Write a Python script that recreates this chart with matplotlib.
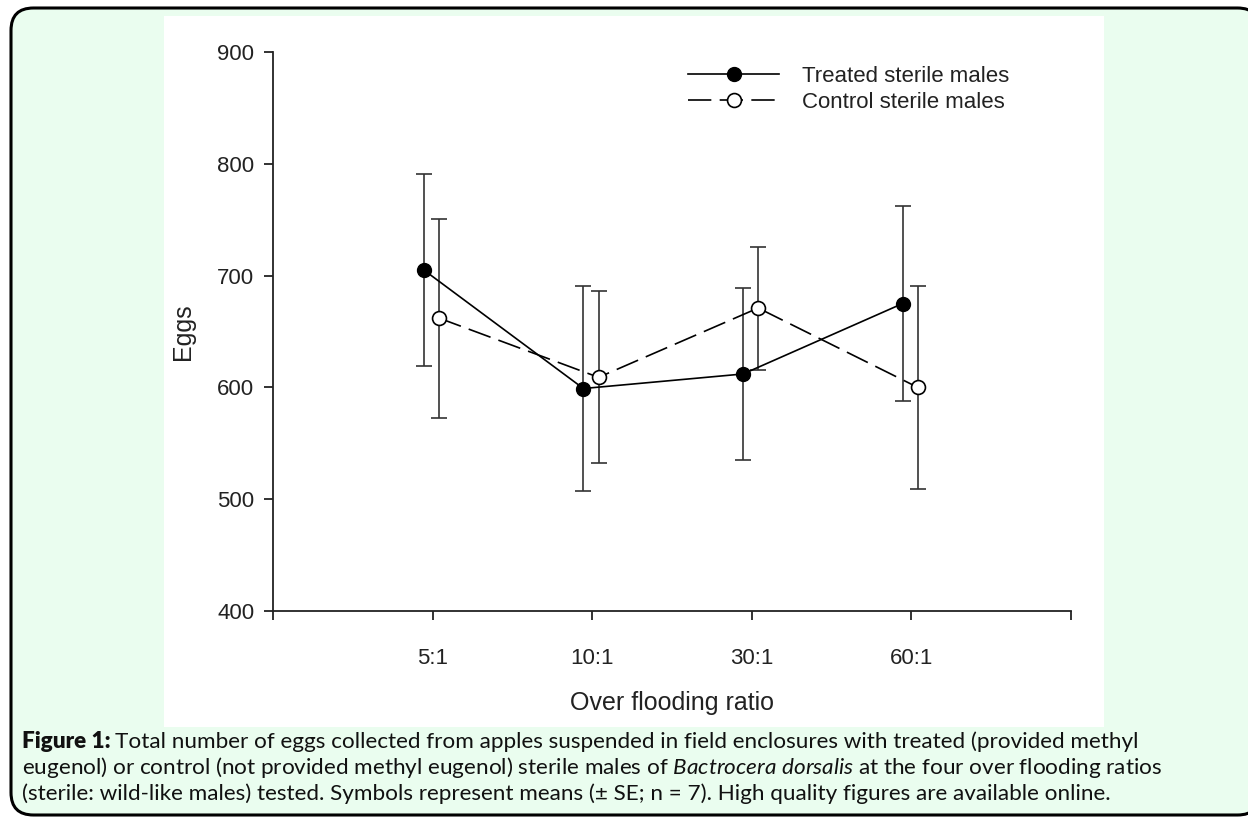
import matplotlib
matplotlib.use("Agg")
import matplotlib.pyplot as plt
from matplotlib.patches import FancyBboxPatch, Rectangle
import numpy as np

categories = ["5:1", "10:1", "30:1", "60:1"]
treated_mean = [705, 599, 612, 675]
treated_se = [86, 92, 77, 87]
control_mean = [662, 609, 671, 600]
control_se = [89, 77, 55, 91]
yticks = [400, 500, 600, 700, 800, 900]

plt.rcParams["mathtext.fontset"] = "custom"
plt.rcParams["mathtext.it"] = "Lato:italic"
plt.rcParams["mathtext.rm"] = "Lato"

W, H = 1248, 819
fig = plt.figure(figsize=(W / 100, H / 100), dpi=100)
fig.patch.set_facecolor("white")

# outer rounded green box
box = FancyBboxPatch((11 / W, 1 - 815 / H), (1260 - 11) / W, (815 - 8) / H,
                     boxstyle="round,pad=0,rounding_size=0.018",
                     transform=fig.transFigure, facecolor="#eafdef",
                     edgecolor="black", linewidth=2.2, zorder=-2,
                     mutation_aspect=W / H)
fig.patches.append(box)
# white chart panel
panel = Rectangle((164 / W, 1 - 727 / H), (1104 - 164) / W, (727 - 16) / H,
                  transform=fig.transFigure, facecolor="white",
                  edgecolor="none", zorder=-1)
fig.patches.append(panel)

ax = fig.add_axes([273 / W, 1 - 611 / H, (1071 - 273) / W, (611 - 52) / H])
ax.set_facecolor("none")
x = np.arange(1, len(categories) + 1)
ax.set_xlim(0, len(categories) + 1)
ax.set_ylim(400, 900)

font = ["Liberation Sans", "DejaVu Sans"]
ax.errorbar(x - 0.055, treated_mean, yerr=treated_se, fmt="none",
            ecolor="#333333", elinewidth=1.2, capsize=6, capthick=1.2, zorder=2)
ax.errorbar(x + 0.04, control_mean, yerr=control_se, fmt="none",
            ecolor="#333333", elinewidth=1.2, capsize=6, capthick=1.2, zorder=2)
ax.plot(x - 0.055, treated_mean, "-", color="black", linewidth=1.2,
        marker="o", markersize=10, markerfacecolor="black",
        markeredgecolor="black", zorder=3, label="Treated sterile males")
ax.plot(x + 0.04, control_mean, color="black", linewidth=1.2,
        dashes=(14, 5), marker="o", markersize=10, markerfacecolor="white",
        markeredgecolor="black", markeredgewidth=1.2, zorder=3,
        label="Control sterile males")

for s in ["top", "right"]:
    ax.spines[s].set_visible(False)
for s in ["left", "bottom"]:
    ax.spines[s].set_linewidth(1.3)
    ax.spines[s].set_color("#222222")

ax.set_xticks(np.arange(0, len(categories) + 2))
ax.set_xticklabels([""] + categories + [""], fontsize=16, family=font)
ax.set_yticks(yticks)
ax.set_yticklabels([str(v) for v in yticks], fontsize=16, family=font)
ax.tick_params(axis="both", direction="out", length=6.5, width=1.3,
               color="#222222", labelcolor="#222222")
ax.tick_params(axis="x", pad=20)
ax.tick_params(axis="y", pad=7)
ax.set_xlabel("Over flooding ratio", fontsize=18, family=font,
              color="#222222", labelpad=16)
ax.set_ylabel("Eggs", fontsize=18, family=font, color="#222222", labelpad=16)

leg = ax.legend(loc="upper left", bbox_to_anchor=((688 - 273) / 798, (611 - 66) / 559),
                frameon=False, borderpad=0, borderaxespad=0,
                prop={"family": font, "size": 16}, handlelength=4.1,
                handletextpad=1.05, labelspacing=0.22)
for t in leg.get_texts():
    t.set_color("#222222")

# caption
cap_font = ["Lato", "DejaVu Sans"]
cap_size = 16.2
y0 = 1 - 742 / H
dy = 26 / H
fig_lab = fig.text(22 / W, y0, "Figure 1:", fontsize=cap_size, family=cap_font,
                   fontweight="heavy", va="center", ha="left", color="#111111")
fig.canvas.draw()
bb = fig_lab.get_window_extent(fig.canvas.get_renderer())
fig.text(bb.x1 / W + 4 / W, y0,
         "Total number of eggs collected from apples suspended in field enclosures with treated (provided methyl",
         fontsize=cap_size, family=cap_font, va="center", ha="left", color="#111111")
fig.text(22 / W, y0 - dy,
         "eugenol) or control (not provided methyl eugenol) sterile males of $\\it{Bactrocera\\ dorsalis}$ at the four over flooding ratios",
         fontsize=cap_size, family=cap_font, va="center", ha="left", color="#111111")
fig.text(22 / W, y0 - 2 * dy,
         "(sterile: wild-like males) tested. Symbols represent means (\u00b1 SE; n = 7). High quality figures are available online.",
         fontsize=cap_size, family=cap_font, va="center", ha="left", color="#111111")

fig.savefig("out.png", dpi=100, facecolor="white")
